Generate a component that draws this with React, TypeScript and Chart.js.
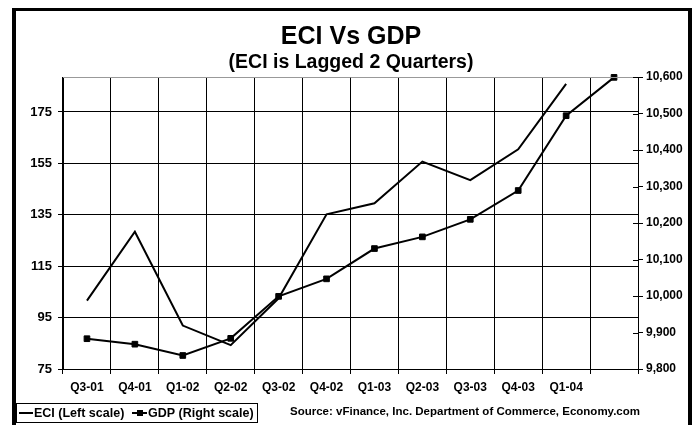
import React, { useEffect, useRef } from "react";
import { Chart, registerables } from "chart.js";

Chart.register(...registerables);

const categories = ["Q3-01", "Q4-01", "Q1-02", "Q2-02", "Q3-02", "Q4-02", "Q1-03", "Q2-03", "Q3-03", "Q4-03", "Q1-04", ""];
const eciValues = [101.6, 128.4, 91.9, 84.3, 102.5, 135.2, 139.5, 155.7, 148.5, 160.5, 185.9, null];
const gdpValues = [9883, 9868, 9837, 9884, 9999, 10047, 10130, 10162, 10210, 10289, 10494, 10599];
const leftTicks = [75, 95, 115, 135, 155, 175];
const rightTicks = [9800, 9900, 10000, 10100, 10200, 10300, 10400, 10500, 10600];

const FONT = "'Liberation Sans', Arial, sans-serif";

const decorPlugin = {
  id: "decor",
  afterDraw(chart: any) {
    const ctx = chart.ctx as CanvasRenderingContext2D;
    const area = chart.chartArea;
    ctx.save();
    // top border of plot area (grey)
    ctx.strokeStyle = "#999999";
    ctx.lineWidth = 1;
    ctx.beginPath();
    ctx.moveTo(area.left, area.top + 0.5);
    ctx.lineTo(area.right, area.top + 0.5);
    ctx.stroke();
    // inner part of right axis tick marks (cross ticks)
    const yR = chart.scales.yRight;
    ctx.strokeStyle = "#000";
    ctx.beginPath();
    yR.ticks.forEach((t: any) => {
      const py = Math.round(yR.getPixelForValue(t.value)) + 0.5;
      ctx.moveTo(area.right - 5, py);
      ctx.lineTo(area.right, py);
    });
    ctx.stroke();

    // frame
    ctx.fillStyle = "#000";
    ctx.fillRect(12, 8, 4, 420);
    ctx.fillRect(12, 8, 680, 3);
    ctx.fillRect(688, 8, 4, 420);

    // title
    ctx.textAlign = "center";
    ctx.textBaseline = "middle";
    ctx.fillStyle = "#000";
    ctx.font = `bold 25px ${FONT}`;
    ctx.fillText("ECI Vs GDP", 351, 37);
    ctx.font = `bold 19.5px ${FONT}`;
    ctx.fillText("(ECI is Lagged 2 Quarters)", 351, 63);

    // source
    ctx.font = `bold 11.5px ${FONT}`;
    ctx.fillText("Source: vFinance, Inc. Department of Commerce, Economy.com", 465, 412);

    // legend
    ctx.strokeStyle = "#000";
    ctx.lineWidth = 1;
    ctx.strokeRect(16.5, 403.5, 241, 19);
    ctx.lineWidth = 2;
    ctx.beginPath();
    ctx.moveTo(19, 413);
    ctx.lineTo(33, 413);
    ctx.moveTo(132, 413);
    ctx.lineTo(147, 413);
    ctx.stroke();
    ctx.fillRect(137, 410, 6, 6);
    ctx.textAlign = "left";
    ctx.font = `bold 12.5px ${FONT}`;
    ctx.fillText(chart.data.datasets[0].label, 34, 413.5);
    ctx.fillText(chart.data.datasets[1].label, 148, 413.5);
    ctx.restore();
  },
};

export default function App() {
  const canvasRef = useRef<HTMLCanvasElement | null>(null);

  useEffect(() => {
    if (!canvasRef.current) return;
    const chart = new Chart(canvasRef.current, {
      type: "line",
      data: {
        labels: categories,
        datasets: [
          {
            label: "ECI (Left scale)",
            data: eciValues,
            yAxisID: "yLeft",
            borderColor: "#000",
            backgroundColor: "#000",
            borderWidth: 2,
            pointRadius: 0,
            tension: 0,
            spanGaps: false,
            clip: false,
          },
          {
            label: "GDP (Right scale)",
            data: gdpValues,
            yAxisID: "yRight",
            borderColor: "#000",
            backgroundColor: "#000",
            borderWidth: 2,
            pointStyle: "rect",
            pointRadius: 4,
            pointBorderWidth: 1,
            tension: 0,
            clip: false,
          },
        ],
      },
      options: {
        animation: false,
        responsive: false,
        maintainAspectRatio: false,
        layout: { padding: { top: 77, left: 0, right: 0, bottom: 0 } },
        plugins: {
          legend: { display: false },
          title: { display: false },
          tooltip: { enabled: false },
        },
        scales: {
          x: {
            type: "category",
            offset: true,
            grid: {
              offset: true,
              color: "#000",
              lineWidth: 1,
              tickLength: 5,
              drawOnChartArea: true,
            },
            border: { display: true, color: "#000", width: 1 },
            ticks: {
              color: "#000",
              font: { family: FONT, size: 12, weight: "bold" },
              padding: 6,
              maxRotation: 0,
              autoSkip: false,
            },
            afterFit(scale: any) {
              scale.height = 56;
            },
          },
          yLeft: {
            type: "linear",
            position: "left",
            min: 75,
            max: 188.6,
            afterBuildTicks(scale: any) {
              scale.ticks = leftTicks.map((v) => ({ value: v }));
            },
            grid: { color: "#000", lineWidth: 1, tickLength: 5 },
            border: { display: true, color: "#000", width: 1 },
            ticks: {
              color: "#000",
              font: { family: FONT, size: 13, weight: "bold" },
              padding: 6,
            },
            afterFit(scale: any) {
              scale.width = 63;
            },
          },
          yRight: {
            type: "linear",
            position: "right",
            min: 9800,
            max: 10600,
            afterBuildTicks(scale: any) {
              scale.ticks = rightTicks.map((v) => ({ value: v }));
            },
            grid: { drawOnChartArea: false, color: "#000", lineWidth: 1, tickLength: 5 },
            border: { display: true, color: "#000", width: 1 },
            ticks: {
              color: "#000",
              font: { family: FONT, size: 12, weight: "bold" },
              padding: 3,
              callback: (v: any) => Number(v).toLocaleString("en-US"),
            },
            afterFit(scale: any) {
              scale.width = 56;
            },
          },
        },
      },
      plugins: [decorPlugin],
    });
    return () => chart.destroy();
  }, []);

  return (
    <div style={{ position: "absolute", left: 0, top: 0, width: 694, height: 425, background: "#fff" }}>
      <canvas ref={canvasRef} width={694} height={425} style={{ display: "block" }} />
    </div>
  );
}
